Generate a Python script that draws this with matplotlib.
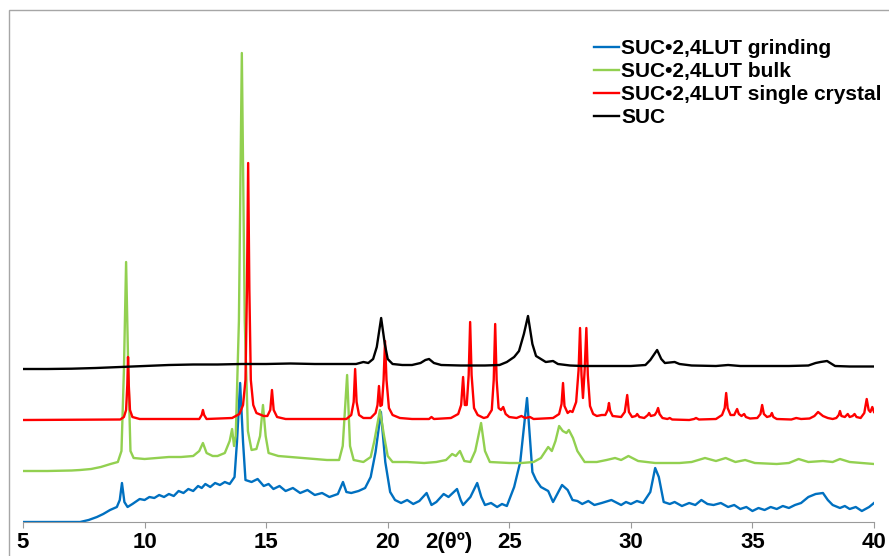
import matplotlib.pyplot as plt
from matplotlib.patches import Rectangle

plt.rcParams['font.family'] = ['Liberation Sans', 'DejaVu Sans']

# ---- data (2theta, intensity above each trace's own baseline) ----
grind_x = [5.0, 6.0, 7.0, 7.35, 7.7, 8.04, 8.3, 8.58, 8.86, 8.98, 9.07, 9.17, 9.3, 9.5, 9.8,
           10.0, 10.2, 10.4, 10.6, 10.8, 11.0, 11.2, 11.4, 11.6, 11.8, 12.0, 12.2, 12.35, 12.5,
           12.7, 12.9, 13.1, 13.3, 13.5, 13.7, 13.8, 13.93, 14.05,
           14.15, 14.4, 14.65, 14.9, 15.1, 15.3, 15.55, 15.8, 16.1, 16.4, 16.7, 17.0, 17.3, 17.6,
           17.95, 18.16, 18.3, 18.5, 18.8,
           19.07, 19.3, 19.5, 19.72, 19.9, 20.1, 20.3, 20.55, 20.8, 21.05, 21.3, 21.6, 21.8, 22.0,
           22.3, 22.5, 22.85, 23.0, 23.1, 23.4, 23.68, 23.85, 24.0, 24.25, 24.5, 24.7, 24.9, 25.2,
           25.45, 25.73, 25.95,
           26.1, 26.3, 26.6, 26.8, 27.17, 27.4, 27.6, 27.8, 28.0, 28.25, 28.5, 28.8, 29.2, 29.6,
           29.8, 30.0, 30.25, 30.5, 30.8,
           31.0, 31.15, 31.35, 31.6, 31.8, 32.1, 32.4, 32.65, 32.9, 33.15, 33.4, 33.7, 34.0,
           34.25, 34.5, 34.75, 35.0, 35.25, 35.5, 35.75, 36.0, 36.25, 36.5, 36.75, 37.0,
           37.3, 37.6, 37.9, 38.1, 38.3, 38.6, 38.8, 39.0, 39.25, 39.5, 39.8, 40.0]
grind_y = [0, 0, 0, 0, 2, 5, 8, 12, 15, 22, 39, 20, 15, 18, 23,
           22, 25, 24, 27, 25, 28, 26, 31, 29, 33, 31, 36, 34, 38,
           35, 39, 37, 40, 38, 45, 80, 139, 80,
           42, 40, 43, 36, 38, 33, 36, 31, 34, 29, 32, 27, 29, 25,
           28, 40, 30, 29, 31,
           34, 45, 70, 110, 60, 30, 22, 19, 22, 18, 21, 29, 17, 20,
           28, 25, 33, 22, 17, 25, 39, 25, 17, 19, 15, 18, 16, 35,
           60, 124, 50,
           42, 35, 31, 20, 37, 32, 22, 21, 18, 21, 17, 19, 22, 17,
           20, 18, 21, 19, 30,
           54, 45, 20, 18, 20, 16, 19, 17, 22, 18, 17, 19, 15,
           17, 13, 15, 11, 14, 12, 15, 13, 16, 14, 17, 19,
           25, 28, 29, 22, 17, 14, 16, 13, 15, 11, 15, 19]

bulk_x = [5.0, 6.0, 7.0, 7.35, 7.8, 8.2, 8.6, 8.9, 9.05, 9.15, 9.24, 9.33, 9.42, 9.55, 10.0,
          10.5, 11.0, 11.5, 12.0, 12.25, 12.4, 12.55, 12.8, 13.0, 13.3, 13.5, 13.6, 13.68, 13.75,
          13.88, 14.0, 14.12, 14.25, 14.4, 14.6, 14.75, 14.87, 14.98, 15.1, 15.5, 16.0, 16.5,
          17.0, 17.5, 18.0, 18.15, 18.33, 18.45, 18.6, 19.0, 19.3, 19.45, 19.68, 19.85, 20.0,
          20.2, 20.8, 21.5, 22.0, 22.4, 22.65, 22.8, 22.97, 23.15, 23.4, 23.6, 23.84, 24.0, 24.2,
          25.0, 25.5, 26.0, 26.3, 26.6, 26.75, 26.9, 27.05, 27.2, 27.35, 27.45, 27.62, 27.8, 28.1,
          28.6, 29.0, 29.35, 29.6, 29.9, 30.3, 31.0, 32.0, 32.5, 33.05, 33.5, 33.9, 34.3, 34.7,
          35.1, 36.0, 36.5, 36.9, 37.3, 37.9, 38.3, 38.6, 39.0, 39.5, 40.0]
bulk_y = [0, 0, 0.5, 1, 2, 4, 7, 9, 20, 100, 209, 100, 20, 13, 12,
          13, 14, 14, 15, 20, 28, 18, 15, 15, 18, 30, 42, 25, 35,
          150, 418, 150, 40, 21, 22, 35, 66, 35, 18, 15, 14, 13,
          12, 11, 11, 25, 96, 25, 11, 9, 14, 30, 61, 35, 15,
          9, 9, 8, 9, 11, 17, 15, 20, 10, 9, 20, 48, 20, 9,
          8, 8, 9, 13, 24, 20, 30, 45, 40, 38, 41, 33, 20, 9,
          9, 11, 13, 11, 15, 10, 8, 8, 9, 13, 10, 13, 9, 11,
          8, 7, 8, 12, 9, 10, 9, 12, 9, 8, 7]

single_x = [5.0, 9.0, 9.15, 9.24, 9.29, 9.32, 9.35, 9.4, 9.5, 9.8,
            12.25, 12.35, 12.4, 12.45, 12.55,
            13.6, 13.9, 14.05, 14.15, 14.21, 14.26, 14.31, 14.37, 14.47, 14.6, 14.9,
            15.05, 15.17, 15.24, 15.31, 15.45, 15.8,
            18.3, 18.5, 18.6, 18.66, 18.72, 18.82, 19.0,
            19.3, 19.5, 19.58, 19.64, 19.7, 19.76, 19.83, 19.89, 19.95, 20.05, 20.2, 20.5, 21.0,
            21.7, 21.8, 21.9,
            22.6, 22.9, 23.02, 23.1, 23.17, 23.25, 23.33, 23.39, 23.45, 23.55, 23.7, 23.95,
            24.1, 24.28, 24.36, 24.42, 24.48, 24.56, 24.66, 24.75, 24.85, 25.0, 25.3, 25.5,
            25.65, 25.85, 26.0,
            26.8, 27.05, 27.15, 27.21, 27.27, 27.4, 27.5, 27.6, 27.75, 27.85, 27.91, 27.97,
            28.03, 28.1, 28.17, 28.23, 28.32, 28.45, 28.6, 28.8,
            28.95, 29.05, 29.1, 29.15, 29.25,
            29.6, 29.75, 29.85, 29.92, 30.05,
            30.2, 30.26, 30.35,
            30.55, 30.7, 30.75, 30.82,
            30.98, 31.06, 31.12, 31.18, 31.3, 31.5, 31.6, 31.7,
            32.4, 32.6, 32.68, 32.8,
            33.5, 33.75, 33.86, 33.92, 33.98, 34.1, 34.25, 34.37, 34.44, 34.55, 34.66, 34.73, 34.9,
            35.2, 35.33, 35.4, 35.47, 35.6, 35.74, 35.8, 35.86, 36.0,
            36.6, 36.8, 37.0,
            37.35, 37.55, 37.7, 37.8, 37.9, 38.1, 38.3,
            38.45, 38.55, 38.6, 38.66, 38.8, 38.92, 39.0, 39.12, 39.2, 39.28, 39.45, 39.6, 39.7,
            39.78, 39.85, 39.93, 40.0]
single_y = [0, 0.5, 3, 10, 35, 63, 35, 10, 3, 1,
            1, 5, 10, 5, 1,
            2, 6, 15, 40, 130, 257, 130, 40, 15, 7, 4,
            4, 10, 30, 10, 3, 1,
            1, 5, 18, 51, 18, 5, 2,
            2, 7, 15, 34, 14, 15, 40, 79, 40, 12, 5, 2, 1,
            1, 3, 1,
            2, 6, 15, 43, 15, 15, 45, 98, 45, 12, 5, 2,
            3, 10, 40, 96, 40, 12, 10, 13, 6, 3, 2, 4,
            2, 3, 1,
            2, 6, 16, 37, 14, 7, 9, 8, 18, 50, 92, 45,
            22, 50, 92, 45, 14, 6, 4, 5,
            5, 10, 17, 9, 4,
            3, 8, 25, 8, 3,
            4, 6, 3,
            2, 5, 7, 4,
            5, 8, 12, 6, 2, 1, 2, 0.5,
            0, 1, 2, 0.5,
            1, 5, 12, 27, 12, 5, 5, 11, 6, 4, 6, 3, 1.5,
            2, 6, 15, 6, 3, 4, 7, 3, 1,
            0.5, 2, 1,
            1.5, 4, 8, 6, 4, 2, 1,
            2, 5, 9, 4, 3, 6, 3, 4, 6, 3, 2, 7, 21,
            10, 8, 13, 8]

suc_x = [5, 6, 7, 8, 9, 10, 11, 12, 13, 14, 15, 16, 17, 18, 18.7, 19.0, 19.2, 19.4, 19.55,
         19.73, 19.88, 20.0, 20.2, 20.6, 21.0, 21.35, 21.55, 21.7, 21.9, 22.2, 23, 24, 24.6,
         24.9, 25.2, 25.4, 25.6, 25.77, 25.95, 26.1, 26.3, 26.5, 26.8, 27.0, 27.5, 28, 29, 30,
         30.6, 30.8, 31.08, 31.25, 31.4, 31.8, 32.0, 32.5, 33.5, 34, 34.5, 35.5, 36.5, 37.3,
         37.6, 37.8, 38.07, 38.2, 38.4, 39, 40]
suc_y = [0, 0, 0.3, 1, 2, 3, 4, 4.5, 4.5, 5, 5, 5.5, 5, 5, 5, 7, 6, 10, 22,
         51, 25, 10, 5, 4, 4, 6, 9, 10, 6, 4, 3.5, 3.5, 4,
         7, 12, 18, 35, 53, 25, 13, 10, 7, 8, 5, 3.5, 3, 3, 3,
         4, 9, 19, 10, 6, 7, 5, 3.5, 3, 4, 3, 3, 3, 3.5,
         6, 7, 8, 6, 3, 2.5, 2.5]

names = ["SUC\u20222,4LUT grinding", "SUC\u20222,4LUT bulk",
         "SUC\u20222,4LUT single crystal", "SUC"]
offsets = [0, 51, 102, 153]
colors = ["#0070C0", "#92D050", "#FF0000", "#000000"]
series = [(grind_x, grind_y), (bulk_x, bulk_y), (single_x, single_y), (suc_x, suc_y)]
ticks = [5, 10, 15, 20, 25, 30, 35, 40]

# ---- figure ----
fig = plt.figure(figsize=(8.89, 5.56), dpi=100)
ax = fig.add_axes([23 / 889, 34 / 556, 851 / 889, 512 / 556])

for (xs, ys), off, c, name in zip(series, offsets, colors, names):
    ax.plot(xs, [v + off for v in ys], color=c, lw=1.7, label=name)

ax.set_xlim(5, 40)
ax.set_ylim(0, 512)
ax.set_xticks(ticks)
ax.set_yticks([])
for s in ["left", "top", "right"]:
    ax.spines[s].set_visible(False)
ax.spines["bottom"].set_color("#9a9a9a")
ax.tick_params(axis="x", direction="out", length=4.5, color="#9a9a9a", pad=2.5,
               labelsize=16)
for lab in ax.get_xticklabels():
    lab.set_fontweight("bold")

# axis title sits in the tick label row
ax.annotate("2(\u03b8\u00ba)", xy=(22.5, 0), xycoords=("data", "axes fraction"),
            xytext=(0, -7), textcoords="offset points",
            ha="center", va="top", fontsize=16, fontweight="bold")

leg = fig.legend(loc="upper left", bbox_to_anchor=(594 / 889, 1 - 39 / 556),
                 frameon=False, handlelength=1.2, handletextpad=0.1,
                 labelspacing=0.19, borderpad=0, borderaxespad=0,
                 prop={"size": 15, "weight": "bold"})

# outer frame
fig.patches.append(Rectangle((9 / 889, -0.02), 1.0, 0.02 + 1 - 10 / 556,
                             transform=fig.transFigure, fill=False,
                             edgecolor="#a6a6a6", lw=1))

fig.savefig("out.png", dpi=100)
